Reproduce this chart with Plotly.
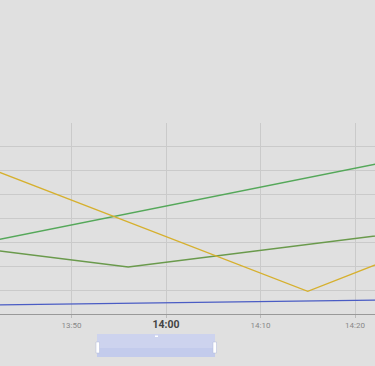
import plotly.graph_objects as go

times = ["2024-01-01 13:40:00", "2024-01-01 13:56:00", "2024-01-01 14:15:00", "2024-01-01 14:25:00"]

orange_t = ["2024-01-01 13:40:00", "2024-01-01 14:15:00", "2024-01-01 14:25:00"]
orange_v = [6.3, 0.95, 2.5]

green1_t = ["2024-01-01 13:40:00", "2024-01-01 14:25:00"]
green1_v = [2.94, 6.5]

green2_t = ["2024-01-01 13:40:00", "2024-01-01 13:56:00", "2024-01-01 14:25:00"]
green2_v = [2.76, 1.97, 3.41]

blue_t = ["2024-01-01 13:40:00", "2024-01-01 14:25:00"]
blue_v = [0.37, 0.6]

tick_vals = ["2024-01-01 13:50:00", "2024-01-01 14:00:00", "2024-01-01 14:10:00", "2024-01-01 14:20:00"]
tick_text = ["13:50", "<span style='font-size:10.5px;color:#444'><b>14:00</b></span>", "14:10", "14:20"]

fig = go.Figure()
fig.add_trace(go.Scatter(x=green1_t, y=green1_v, mode="lines", line=dict(color="#55a85a", width=1.3)))
fig.add_trace(go.Scatter(x=green2_t, y=green2_v, mode="lines", line=dict(color="#6a9a4c", width=1.3)))
fig.add_trace(go.Scatter(x=orange_t, y=orange_v, mode="lines", line=dict(color="#d6b02e", width=1.3)))
fig.add_trace(go.Scatter(x=blue_t, y=blue_v, mode="lines", line=dict(color="#4a5cc4", width=1.3)))

W, H = 375, 366
top, bottom = 123, 314
ph = bottom - top
def py(y):
    return (bottom - y) / ph

shapes = [
    dict(type="rect", xref="paper", yref="paper", x0=97/W, x1=215/W, y0=py(357), y1=py(334),
         fillcolor="#cdd3ee", line=dict(width=0), layer="above"),
    dict(type="rect", xref="paper", yref="paper", x0=97/W, x1=215/W, y0=py(357), y1=py(348),
         fillcolor="#c3cbec", line=dict(width=0), layer="above"),
    dict(type="rect", xref="paper", yref="paper", x0=96/W, x1=99.5/W, y0=py(353), y1=py(342),
         fillcolor="#ffffff", line=dict(color="#b0b8d8", width=0.5), layer="above"),
    dict(type="rect", xref="paper", yref="paper", x0=213/W, x1=216.5/W, y0=py(353), y1=py(342),
         fillcolor="#ffffff", line=dict(color="#b0b8d8", width=0.5), layer="above"),
    dict(type="rect", xref="paper", yref="paper", x0=155/W, x1=158/W, y0=py(337), y1=py(335.5),
         fillcolor="#ffffff", line=dict(width=0), layer="above"),
]

fig.update_layout(
    width=W, height=H,
    margin=dict(l=0, r=0, t=top, b=H - bottom),
    paper_bgcolor="#e0e0e0",
    plot_bgcolor="#e0e0e0",
    showlegend=False,
    shapes=shapes,
    font=dict(family="Roboto, Noto Sans, sans-serif"),
    xaxis=dict(
        range=["2024-01-01 13:42:26", "2024-01-01 14:22:07"],
        tickvals=tick_vals, ticktext=tick_text,
        tickfont=dict(size=8, color="#888"),
        showgrid=True, gridcolor="#cacaca", gridwidth=1,
        showline=True, linecolor="#999", linewidth=1,
        ticks="outside", ticklen=3, tickcolor="#bbb",
        zeroline=False, fixedrange=True,
    ),
    yaxis=dict(
        range=[0, 8], dtick=1,
        showticklabels=False,
        showgrid=True, gridcolor="#cacaca", gridwidth=1,
        zeroline=False, showline=False, fixedrange=True,
    ),
)

fig.write_html("out.html", config={"displayModeBar": False})
